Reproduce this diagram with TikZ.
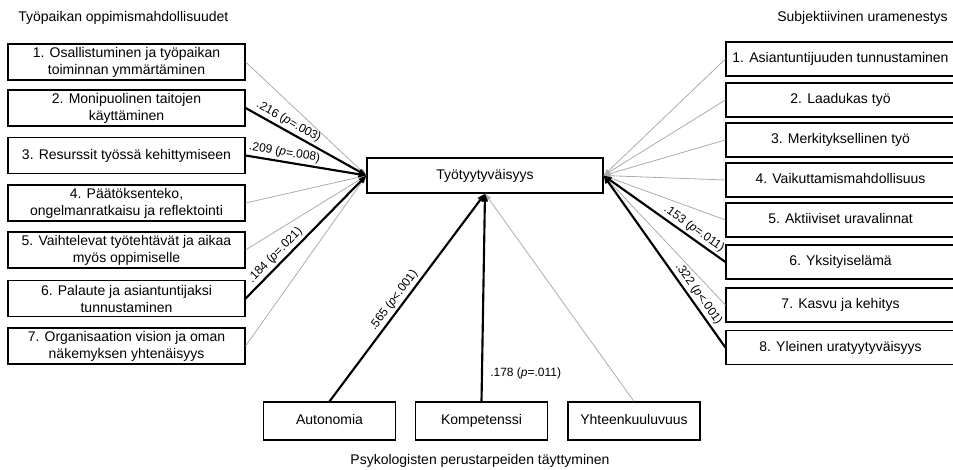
\documentclass[tikz,border=0pt]{standalone}
\usepackage{fontspec}
\setmainfont{Liberation Sans}
\usetikzlibrary{arrows.meta}
\definecolor{lg}{RGB}{172,172,172}
\begin{document}
\begin{tikzpicture}[x=0.75pt,y=-0.75pt,
  box/.style={draw=black,line width=0.9pt,inner sep=0pt,align=center,font=\fontsize{10.5}{12.75}\selectfont},
  one/.style={text height=7.8pt,text depth=2.4pt},
  lbox/.style={box,minimum width=177.75pt,minimum height=27pt},
  rbox/.style={box,one,minimum width=171.75pt,minimum height=25.5pt},
  bbox/.style={box,one,minimum width=99pt,minimum height=28.5pt},
  ttl/.style={inner sep=0pt,font=\fontsize{10.5}{12.75}\selectfont},
  strong/.style={draw=black,line width=1.6pt,-{Triangle[length=6pt,width=4.5pt]}},
  weak/.style={draw=lg,line width=0.6pt,-{Triangle[length=5pt,width=3.5pt]}},
  lab/.style={font=\fontsize{9}{10}\selectfont,sloped,above,inner sep=1.8pt}
]
\useasboundingbox (0,0) rectangle (953,470);

% titles
\node[ttl,anchor=west] (tl) at (18,18) {Työpaikan oppimismahdollisuudet};
\node[ttl,anchor=east] (tr) at (948,18) {Subjektiivinen uramenestys};
\node[ttl] (tb) at (480,461) {Psykologisten perustarpeiden täyttyminen};

% centre
\node[box,one,minimum width=177pt,minimum height=26.25pt] (c) at (485,175.5) {Työtyytyväisyys};

% left boxes
\node[lbox] (l1) at (126.5,62)  {1. Osallistuminen ja työpaikan\\toiminnan ymmärtäminen};
\node[lbox] (l2) at (126.5,108) {2. Monipuolinen taitojen\\käyttäminen};
\node[lbox,one] (l3) at (126.5,155.5) {3. Resurssit työssä kehittymiseen};
\node[lbox] (l4) at (126.5,203) {4. Päätöksenteko,\\ongelmanratkaisu ja reflektointi};
\node[lbox] (l5) at (126.5,250) {5. Vaihtelevat työtehtävät ja aikaa\\myös oppimiselle};
\node[lbox] (l6) at (126.5,298.5) {6. Palaute ja asiantuntijaksi\\tunnustaminen};
\node[lbox] (l7) at (126.5,346) {7. Organisaation vision ja oman\\näkemyksen yhtenäisyys};

% right boxes
\node[rbox] (r1) at (840.5,59)  {1. Asiantuntijuuden tunnustaminen};
\node[rbox] (r2) at (840.5,100) {2. Laadukas työ};
\node[rbox] (r3) at (840.5,140) {3. Merkityksellinen työ};
\node[rbox] (r4) at (840.5,180) {4. Vaikuttamismahdollisuus};
\node[rbox] (r5) at (840.5,220) {5. Aktiiviset uravalinnat};
\node[rbox] (r6) at (840.5,262) {6. Yksityiselämä};
\node[rbox] (r7) at (840.5,305) {7. Kasvu ja kehitys};
\node[rbox] (r8) at (840.5,347.5) {8. Yleinen uratyytyväisyys};

% bottom boxes
\node[bbox] (b1) at (329.5,421) {Autonomia};
\node[bbox] (b2) at (481.5,421) {Kompetenssi};
\node[bbox] (b3) at (634,421) {Yhteenkuuluvuus};

% left connectors
\draw[weak] (l1.east) -- (c.west);
\draw[weak] (l4.east) -- (c.west);
\draw[weak] (l5.east) -- (c.west);
\draw[weak] (l7.east) -- (c.west);
\draw[strong] (l2.east) -- node[lab,pos=0.32] (t2) {.216 (\textit{p}=.003)} (c.west);
\draw[strong] (l3.east) -- node[lab,pos=0.31] (t3) {.209 (\textit{p}=.008)} (c.west);
\draw[strong] (l6.east) -- node[lab,pos=0.3] (t6) {.184 (\textit{p}=.021)} (c.west);

% right connectors
\draw[weak] (r1.west) -- (c.east);
\draw[weak] (r2.west) -- (c.east);
\draw[weak] (r3.west) -- (c.east);
\draw[weak] (r4.west) -- (c.east);
\draw[weak] (r5.west) -- (c.east);
\draw[weak] (r7.west) -- (c.east);
\draw[strong] (r6.west) -- node[lab,pos=0.3] (u6) {.153 (\textit{p}=.011)} (c.east);
\draw[strong] (r8.west) -- node[lab,pos=0.28] (u8) {.322 (\textit{p}<.001)} (c.east);

% bottom connectors
\draw[weak] (b3.north) -- (c.south);
\draw[strong] (b1.north) -- node[lab,pos=0.46] (v1) {.565 (\textit{p}<.001)} (c.south);
\draw[strong] (b2.north) -- (c.south);
\node[font=\fontsize{9}{10}\selectfont,anchor=west,inner sep=0pt] (v2) at (490,373) {.178 (\textit{p}=.011)};
\end{tikzpicture}
\end{document}
